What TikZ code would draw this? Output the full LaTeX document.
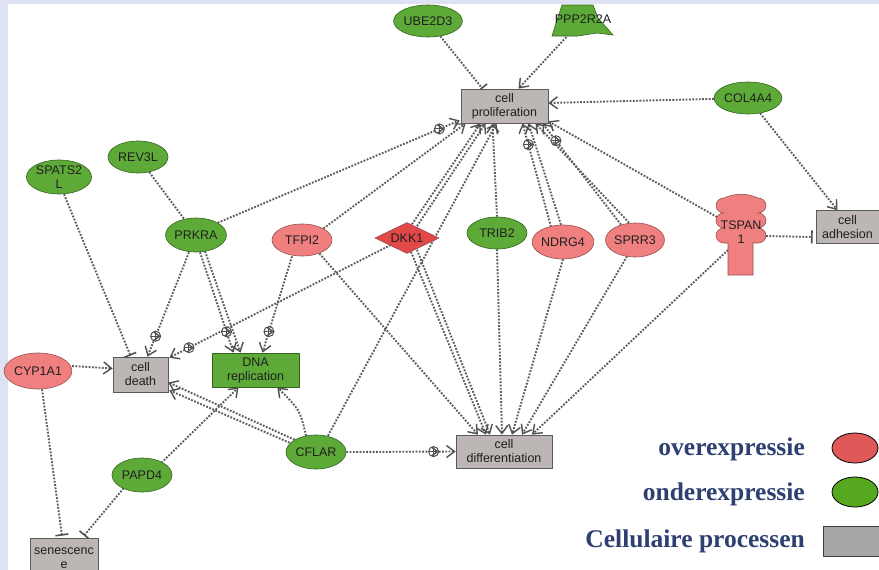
\documentclass[tikz,border=0pt]{standalone}
\usepackage{fontspec}
\setmainfont{Liberation Sans}
\newfontfamily\legendfont{Liberation Serif}
\usetikzlibrary{shapes.geometric,arrows.meta,decorations.markings,calc}

\definecolor{pagebg}{RGB}{221,227,242}
\definecolor{upfill}{RGB}{240,128,128}
\definecolor{upline}{RGB}{150,80,80}
\definecolor{dkkfill}{RGB}{226,72,72}
\definecolor{downfill}{RGB}{94,170,56}
\definecolor{downline}{RGB}{50,100,30}
\definecolor{procfill}{RGB}{188,182,180}
\definecolor{procline}{RGB}{90,90,90}
\definecolor{linkgray}{RGB}{92,92,92}
\definecolor{tipgray}{RGB}{80,80,80}
\definecolor{legendtext}{RGB}{46,64,114}
\definecolor{legendred}{RGB}{224,88,88}
\definecolor{legendgreen}{RGB}{86,168,32}
\definecolor{legendgray}{RGB}{166,166,166}

\pgfdeclarelayer{backdrop}
\pgfdeclarelayer{links}
\pgfsetlayers{backdrop,links,main}

\tikzset{
  lbl/.style={font=\fontsize{12.5}{14}\selectfont, align=center, text=black!88},
  upgene/.style={lbl, ellipse, fill=upfill, draw=upline, line width=0.6pt,
    minimum width=60pt, minimum height=32pt, inner sep=0pt},
  downgene/.style={lbl, ellipse, fill=downfill, draw=downline, line width=0.6pt,
    minimum width=60pt, minimum height=32pt, inner sep=0pt},
  proc/.style={lbl, rectangle, fill=procfill, draw=procline, line width=0.7pt, inner sep=0pt},
  link/.style={draw=linkgray, line width=1.9pt, dash pattern=on 1.8pt off 1.5pt},
  act/.style={link, -{Straight Barb[length=8pt,width=12pt,line width=1.4pt,color=tipgray]}},
  inh/.style={link, -{Bar[width=13pt,line width=1.6pt,color=tipgray]}},
  oplus/.style={circle, draw=tipgray, solid, line width=1pt, fill=white,
    minimum size=10pt, inner sep=0pt,
    path picture={\draw[tipgray, solid, line width=1pt]
      (path picture bounding box.north) -- (path picture bounding box.south)
      (path picture bounding box.west) -- (path picture bounding box.east);}},
  viaplus/.style={postaction={decorate, decoration={markings,
    mark=at position -22pt with {\node[oplus]{};}}}},
  legendlbl/.style={anchor=base east, inner sep=0pt, text=legendtext,
    font=\legendfont\bfseries\fontsize{25.5}{28}\selectfont},
}

\begin{document}
\begin{tikzpicture}[x=1pt,y=-1pt]
\useasboundingbox (0,0) rectangle (879,570);
\clip (0,0) rectangle (879,570);

\begin{pgfonlayer}{backdrop}
  \fill[pagebg] (0,0) rectangle (879,570);
  \fill[white] (8,4) rectangle (879,570);
\end{pgfonlayer}

% ---------- genes ----------
\node[downgene] (ube) at (428,21) {UBE2D3};
\filldraw[fill=downfill, draw=downline, line width=0.6pt]
  (562,5) -- (593,5) -- (598,18) -- (613,35) -- (597,33) -- (578,36)
  -- (552,36) -- (557,20) -- cycle;
\node[lbl, minimum width=60pt, minimum height=31pt, inner sep=0pt] (ppp) at (583,19) {PPP2R2A};
\node[downgene] (col) at (748,98) {COL4A4};
\node[downgene, minimum height=34pt] (spats) at (59,177) {SPATS2\\L};
\node[downgene] (rev) at (138,157) {REV3L};
\node[downgene, minimum height=34pt] (prkra) at (196,235) {PRKRA};
\node[upgene] (tfpi) at (302,240) {TFPI2};
\node[lbl, diamond, fill=dkkfill, draw=upline, line width=0.6pt, aspect=2.1,
  minimum width=64pt, minimum height=31pt, inner sep=0pt] (dkk) at (407,238) {DKK1};
\node[downgene] (trib) at (497,233) {TRIB2};
\node[upgene, minimum height=34pt] (ndrg) at (563,242) {NDRG4};
\node[upgene, minimum width=56pt, minimum height=34pt] (sprr) at (635,240) {SPRR3};
\filldraw[fill=upfill, draw=upline, line width=0.6pt]
  (724,198) .. controls (735,193) and (747,193) .. (758,198)
  arc[start angle=-90, end angle=90, x radius=8, y radius=7.5]
  arc[start angle=-90, end angle=90, x radius=8, y radius=7.5]
  arc[start angle=-90, end angle=90, x radius=8, y radius=7.5]
  -- (753,243) -- (753,275) -- (728,275) -- (728,243) -- (724,243)
  arc[start angle=90, end angle=270, x radius=8, y radius=7.5]
  arc[start angle=90, end angle=270, x radius=8, y radius=7.5]
  arc[start angle=90, end angle=270, x radius=8, y radius=7.5]
  -- cycle;
\node[lbl, inner sep=0pt] (tspan) at (741,232) {TSPAN\\1};
\node[upgene, minimum width=61pt, minimum height=36pt] (cyp) at (38,371) {CYP1A1};
\node[downgene, minimum height=34pt] (cflar) at (316,452) {CFLAR};
\node[downgene, minimum height=34pt] (papd) at (142,475) {PAPD4};

% ---------- processes ----------
\node[proc, minimum width=87pt, minimum height=34pt] (prolif) at (504.5,106) {cell\\proliferation};
\node[proc, minimum width=63pt, minimum height=33pt] (adh) at (847.5,227) {cell\\adhesion};
\node[proc, minimum width=55pt, minimum height=35pt] (death) at (140.5,374.5) {cell\\death};
\node[proc, fill=downfill, draw=downline, minimum width=87pt, minimum height=34pt] (dna) at (255.5,370) {DNA\\replication};
\node[proc, minimum width=96pt, minimum height=33pt] (diff) at (504,451.5) {cell\\differentiation};
\node[proc, minimum width=68pt, minimum height=40pt] (sen) at (64,558) {senescenc\\e};

% ---------- links ----------
\begin{pgfonlayer}{links}
  % into cell proliferation
  \draw[inh] (ube) -- ($(prolif.north)+(-22,0)$);
  \draw[act] (ppp) -- ($(prolif.north)+(14,0)$);
  \draw[act] (col) -- ($(prolif.east)+(0,-3)$);
  \draw[act, viaplus] (prkra.north east) -- ($(prolif.south west)+(-1,-3)$);
  \draw[act] (tfpi.north east) -- ($(prolif.south west)+(5,0)$);
  \draw[act] ($(dkk.north)+(5,2)$) -- ($(prolif.south)+(-24,0)$);
  \draw[act] ($(dkk.north)+(10,4)$) -- ($(prolif.south)+(-19,0)$);
  \draw[act] ($(cflar.north)+(12,1)$) -- ($(prolif.south)+(-8,0)$);
  \draw[act] (trib.north) -- ($(prolif.south)+(-12,0)$);
  \draw[act, viaplus] ($(ndrg.north)+(-12,2)$) -- ($(prolif.south)+(18,0)$);
  \draw[act] ($(ndrg.north)+(-2,0)$) -- ($(prolif.south)+(24,0)$);
  \draw[act, viaplus] ($(sprr.north)+(-14,2)$) -- ($(prolif.south)+(38,0)$);
  \draw[act] ($(sprr.north)+(-6,0)$) -- ($(prolif.south)+(31,0)$);
  \draw[act] ($(tspan)+(-24,-15)$) -- ($(prolif.south east)+(0,-2)$);
  % cell adhesion
  \draw[act] (col) -- ($(adh.north)+(-10,0)$);
  \draw[inh] ($(tspan)+(25,4)$) -- ($(adh.west)+(-3,10)$);
  % cell differentiation
  \draw[act] ($(tfpi.south east)+(-4,2)$) -- ($(diff.north)+(-26,0)$);
  \draw[act] ($(dkk.south)+(4,-2)$) -- ($(diff.north)+(-18,0)$);
  \draw[act] ($(dkk.south)+(10,-4)$) -- ($(diff.north)+(-14,0)$);
  \draw[act] (trib.south) -- ($(diff.north)+(-2,0)$);
  \draw[act] (ndrg.south) -- ($(diff.north)+(8,0)$);
  \draw[act] ($(sprr.south)+(-8,-1)$) -- ($(diff.north)+(18,0)$);
  \draw[act] ($(tspan)+(-13,18)$) -- ($(diff.north)+(28,0)$);
  \draw[act, viaplus] (cflar.east) -- (diff.west);
  % cell death
  \draw[inh] ($(spats.south)+(5,0)$) -- ($(death.north)+(-10,-1)$);
  \draw[act, viaplus] ($(prkra.south)+(-7,0)$) -- ($(death.north)+(7,0)$);
  \draw[act, viaplus] ($(dkk.west)+(16,7)$) -- ($(death.north east)+(1,1)$);
  \draw[act] ($(cyp.east)+(0,-5)$) -- ($(death.west)+(0,-6)$);
  \draw[act] (cflar.north west) -- ($(death.east)+(0,8)$);
  \draw[act] ($(cflar.north west)+(-5,3)$) -- ($(death.south east)+(1,-2)$);
  % DNA replication
  \draw[act, viaplus] ($(prkra.south)+(4,0)$) -- ($(dna.north)+(-22,0)$);
  \draw[act] ($(prkra.south)+(9,-1)$) -- ($(dna.north)+(-15,0)$);
  \draw[act, viaplus] ($(tfpi.south)+(-10,0)$) -- ($(dna.north)+(7,0)$);
  \draw[act] ($(papd.north east)+(-2,0)$) -- ($(dna.south)+(-17,0)$);
  \draw[act] ($(cflar.north)+(-10,1)$) .. controls (300,410) .. ($(dna.south east)+(-22,0)$);
  % senescence
  \draw[inh] ($(cyp.south)+(4,0)$) -- ($(sen.north)+(-2,-2)$);
  \draw[inh] ($(papd.south west)+(3,1)$) -- ($(sen.north)+(20,-2)$);
  % binding
  \draw[link] (rev) -- (prkra);
\end{pgfonlayer}

% ---------- legend ----------
\node[legendlbl] (lgup) at (805,455) {overexpressie};
\node[legendlbl] (lgdown) at (805,500) {onderexpressie};
\node[legendlbl] (lgproc) at (805,547) {Cellulaire processen};
\node[ellipse, fill=legendred, draw=black, line width=0.8pt, minimum width=46pt,
  minimum height=30pt] (keyup) at (855,448) {};
\node[ellipse, fill=legendgreen, draw=black, line width=0.8pt, minimum width=46pt,
  minimum height=30pt] (keydown) at (855,492) {};
\node[rectangle, fill=legendgray, draw=black!75, line width=0.8pt, minimum width=58pt,
  minimum height=30pt] (keyproc) at (852,541) {};
\end{tikzpicture}
\end{document}
